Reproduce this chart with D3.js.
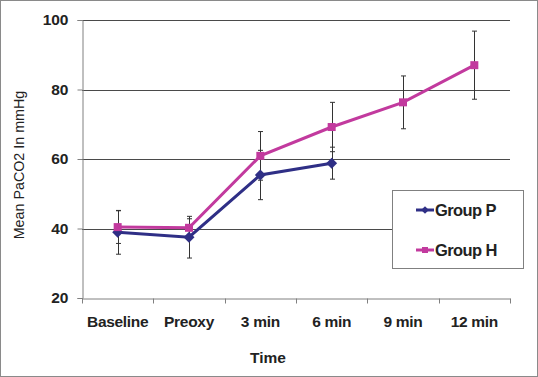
<!DOCTYPE html>
<html>
<head>
<meta charset="utf-8">
<script src="https://cdn.jsdelivr.net/npm/d3@7"></script>
<style>
  body { margin: 0; background: #fff; }
  svg { display: block; font-family: Arial, "Liberation Sans", sans-serif; }
</style>
</head>
<body>
<div id="chart"></div>
<script>
const categories = ["Baseline", "Preoxy", "3 min", "6 min", "9 min", "12 min"];
const groupP = [38.9, 37.5, 55.4, 58.8];
const groupPErr = [6.3, 6.0, 7.1, 4.6];
const groupH = [40.4, 40.2, 60.9, 69.2, 76.3, 87.0];
const groupHErr = [4.7, 2.6, 7.0, 7.1, 7.6, 9.8];
const yTicks = [20, 40, 60, 80, 100];

const W = 538, H = 377;
const plot = {left: 82, right: 510, top: 20, bottom: 298};

const svg = d3.select("#chart").append("svg")
  .attr("width", W)
  .attr("height", H);

svg.append("rect")
  .attr("x", 0.5).attr("y", 0.5)
  .attr("width", W - 1).attr("height", H - 1)
  .attr("fill", "#fff")
  .attr("stroke", "#8a8a8a");

const x = d3.scaleBand().domain(categories).range([plot.left, plot.right]).padding(0);
const y = d3.scaleLinear().domain([20, 100]).range([plot.bottom, plot.top]);
const cx = d => x(d) + x.bandwidth() / 2;

// gridlines
svg.append("g")
  .selectAll("line")
  .data(yTicks.filter(t => t > 20))
  .join("line")
  .attr("x1", plot.left).attr("x2", plot.right)
  .attr("y1", d => Math.round(y(d)) + 0.5).attr("y2", d => Math.round(y(d)) + 0.5)
  .attr("stroke", "#4a4a4a")
  .attr("stroke-width", 1);

// y axis
const yAxis = svg.append("g")
  .attr("transform", `translate(${plot.left + 0.5},0)`)
  .call(d3.axisLeft(y).tickValues(yTicks).tickSize(5).tickPadding(9));
yAxis.select(".domain").attr("stroke", "#808080");
yAxis.selectAll(".tick line").attr("stroke", "#808080");
yAxis.selectAll(".tick text")
  .attr("font-size", 15.5).attr("font-weight", "bold")
  .attr("font-family", "Arial, 'Liberation Sans', sans-serif")
  .attr("fill", "#222");

// x axis
const xAxis = svg.append("g")
  .attr("transform", `translate(0,${Math.round(plot.bottom) + 0.5})`)
  .call(d3.axisBottom(x).tickSize(0).tickPadding(17));
xAxis.select(".domain").attr("stroke", "#808080");
xAxis.selectAll(".tick text")
  .attr("font-size", 15.5).attr("font-weight", "bold")
  .attr("letter-spacing", -0.3)
  .attr("font-family", "Arial, 'Liberation Sans', sans-serif")
  .attr("fill", "#222");
xAxis.selectAll("line.bound")
  .data(categories.map(c => x(c)).concat([plot.right]))
  .join("line")
  .attr("class", "bound")
  .attr("x1", d => Math.round(d) + 0.5).attr("x2", d => Math.round(d) + 0.5)
  .attr("y1", 0).attr("y2", 5)
  .attr("stroke", "#808080");

// axis titles
svg.append("text")
  .attr("x", 268).attr("y", 363)
  .attr("text-anchor", "middle")
  .attr("font-size", 15.5).attr("font-weight", "bold")
  .attr("fill", "#222")
  .text("Time");

svg.append("text")
  .attr("transform", "translate(24,165) rotate(-90)")
  .attr("text-anchor", "middle")
  .attr("font-size", 14.3)
  .attr("fill", "#222")
  .text("Mean PaCO2 In mmHg");

// error bars
function errorBars(vals, errs) {
  const g = svg.append("g").attr("stroke", "#333").attr("stroke-width", 1);
  vals.forEach((v, i) => {
    const xp = Math.round(cx(categories[i])) + 0.5;
    const top = y(v + errs[i]), bot = y(v - errs[i]);
    g.append("line").attr("x1", xp).attr("x2", xp).attr("y1", top).attr("y2", bot);
    g.append("line").attr("x1", xp - 2.5).attr("x2", xp + 2.5).attr("y1", top).attr("y2", top);
    g.append("line").attr("x1", xp - 2.5).attr("x2", xp + 2.5).attr("y1", bot).attr("y2", bot);
  });
}
errorBars(groupP, groupPErr);
errorBars(groupH, groupHErr);

const line = d3.line().x((d, i) => cx(categories[i])).y(d => y(d));

const colP = "#2f2f86", colH = "#c23a9e";

svg.append("path").datum(groupP)
  .attr("d", line).attr("fill", "none")
  .attr("stroke", colP).attr("stroke-width", 3);
svg.append("path").datum(groupH)
  .attr("d", line).attr("fill", "none")
  .attr("stroke", colH).attr("stroke-width", 3);

svg.append("g").selectAll("path")
  .data(groupP)
  .join("path")
  .attr("d", d3.symbol().type(d3.symbolSquare).size(60))
  .attr("transform", (d, i) => `translate(${cx(categories[i])},${y(d)}) rotate(45)`)
  .attr("fill", colP);

svg.append("g").selectAll("rect")
  .data(groupH)
  .join("rect")
  .attr("x", (d, i) => cx(categories[i]) - 4)
  .attr("y", d => y(d) - 4)
  .attr("width", 8).attr("height", 8)
  .attr("fill", colH);

// legend
const lg = svg.append("g");
lg.append("rect")
  .attr("x", 392.5).attr("y", 190.5)
  .attr("width", 131).attr("height", 78)
  .attr("fill", "#fff")
  .attr("stroke", "#808080");

const legendItems = [
  {name: "Group P", color: colP, y: 210, shape: "diamond"},
  {name: "Group H", color: colH, y: 250, shape: "square"}
];
legendItems.forEach(it => {
  lg.append("line")
    .attr("x1", 416).attr("x2", 434)
    .attr("y1", it.y).attr("y2", it.y)
    .attr("stroke", it.color).attr("stroke-width", 3);
  if (it.shape === "diamond") {
    lg.append("path")
      .attr("d", d3.symbol().type(d3.symbolSquare).size(30))
      .attr("transform", `translate(425,${it.y}) rotate(45)`)
      .attr("fill", it.color);
  } else {
    lg.append("rect")
      .attr("x", 422).attr("y", it.y - 3)
      .attr("width", 6).attr("height", 6)
      .attr("fill", it.color);
  }
  lg.append("text")
    .attr("x", 435).attr("y", it.y + 6)
    .attr("font-size", 16.5).attr("font-weight", "bold")
    .attr("letter-spacing", -0.6)
    .attr("fill", "#222")
    .text(it.name);
});
</script>
</body>
</html>
